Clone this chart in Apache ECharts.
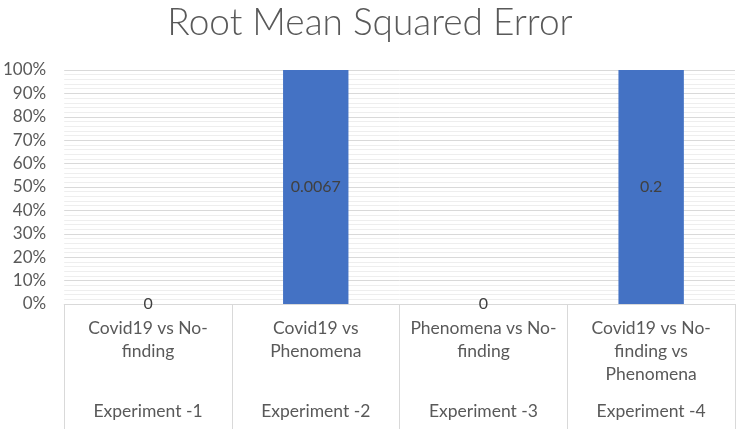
<!DOCTYPE html>
<html><head><meta charset="utf-8">
<script src="https://cdn.jsdelivr.net/npm/echarts@6/dist/echarts.min.js"></script>
<style>html,body{margin:0;padding:0;background:#fff}#c{width:740px;height:430px}</style>
</head><body><div id="c"></div>
<script>
var titleText = 'Root Mean Squared Error';
var categories = ['Covid19 vs No-\nfinding', 'Covid19 vs\nPhenomena', 'Phenomena vs No-\nfinding', 'Covid19 vs No-\nfinding vs\nPhenomena'];
var groups = ['Experiment -1', 'Experiment -2', 'Experiment -3', 'Experiment -4'];
var rmseValues = [0, 0.0067, 0, 0.2];
var sharePercent = [0, 100, 0, 100];
var yTicks = [0, 10, 20, 30, 40, 50, 60, 70, 80, 90, 100];

var FONT = 'Lato, "Open Sans", sans-serif';
var chart = echarts.init(document.getElementById('c'), null, {renderer: 'canvas'});
chart.setOption({
  animation: false,
  backgroundColor: '#ffffff',
  title: {
    text: titleText, left: 'center', top: 0,
    textStyle: {fontFamily: FONT, fontWeight: 300, fontSize: 37, color: '#595959'}
  },
  grid: {left: 62, right: 5, top: 70, bottom: 126},
  xAxis: [{
    type: 'category', data: categories, position: 'bottom',
    axisLine: {show: true, lineStyle: {color: '#d9d9d9', width: 1}},
    axisTick: {show: true, length: 125, lineStyle: {color: '#d9d9d9', width: 1}},
    axisLabel: {fontFamily: FONT, fontSize: 17.5, color: '#595959', margin: 13, lineHeight: 23, interval: 0}
  }, {
    type: 'category', data: groups, position: 'bottom',
    axisLine: {show: false}, axisTick: {show: false},
    axisLabel: {fontFamily: FONT, fontSize: 17.5, color: '#595959', margin: 98, interval: 0}
  }],
  yAxis: {
    type: 'value', min: yTicks[0], max: yTicks[yTicks.length - 1], interval: 10,
    axisLine: {show: false}, axisTick: {show: false},
    axisLabel: {fontFamily: FONT, fontSize: 17, color: '#595959', margin: 18, formatter: '{value}%'},
    splitLine: {show: true, lineStyle: {color: '#d9d9d9', width: 1}},
    minorTick: {show: false, splitNumber: 5},
    minorSplitLine: {show: true, lineStyle: {color: '#eeeeee', width: 1}}
  },
  series: [{
    type: 'bar', xAxisIndex: 0, data: sharePercent, barWidth: '39%',
    itemStyle: {color: '#4472C4'},
    label: {
      show: true, position: 'inside', fontFamily: FONT, fontSize: 16, color: '#404040',
      formatter: function (p) { return String(rmseValues[p.dataIndex]); }
    }
  }]
});
</script></body></html>
